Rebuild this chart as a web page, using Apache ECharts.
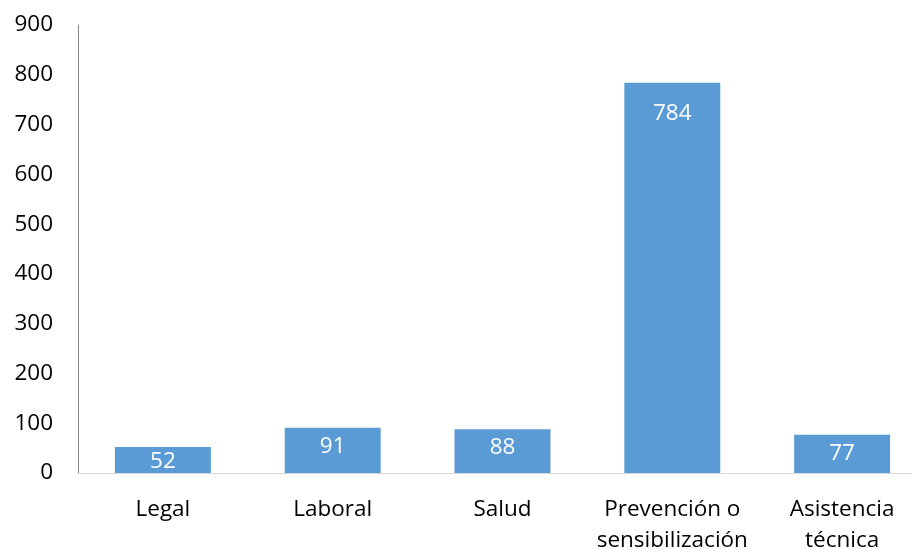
<!DOCTYPE html>
<html>
<head>
<meta charset="utf-8">
<script src="https://cdn.jsdelivr.net/npm/echarts@6/dist/echarts.min.js"></script>
<style>
  html, body { margin: 0; padding: 0; background: #fff; }
  #chart { width: 912px; height: 549px; }
</style>
</head>
<body>
<div id="chart"></div>
<script>
// datos del gráfico
const categories = ['Legal', 'Laboral', 'Salud', 'Prevención o\nsensibilización', 'Asistencia\ntécnica']
const values = [52, 91, 88, 784, 77]
const yMin = 0
const yMax = 900
const yStep = 100

const chart = echarts.init(document.getElementById('chart'))
chart.setOption({
  animation: false,
  textStyle: { fontFamily: 'Open Sans' },
  grid: {
    left: 78,
    right: -15,
    top: 25,
    bottom: 76,
    containLabel: false,
    outerBoundsMode: 'none'
  },
  xAxis: {
    type: 'category',
    data: categories,
    axisTick: { show: false },
    axisLine: { lineStyle: { color: '#d9d9d9', width: 1 } },
    axisLabel: {
      color: '#000',
      fontSize: 22.5,
      lineHeight: 31,
      margin: 21,
      interval: 0
    }
  },
  yAxis: {
    type: 'value',
    min: yMin,
    max: yMax,
    interval: yStep,
    axisLine: { show: true, lineStyle: { color: '#868686', width: 1 } },
    axisTick: { show: false },
    splitLine: { show: false },
    axisLabel: {
      color: '#000',
      fontSize: 22.5,
      margin: 25
    }
  },
  series: [{
    type: 'bar',
    data: values.map(v => ({
      value: v,
      // etiqueta más abajo en la barra alta
      label: { distance: v > 500 ? 19 : (v < 60 ? 3 : 7) }
    })),
    barCategoryGap: '43.5%',
    itemStyle: { color: '#5b9bd5' },
    label: {
      show: true,
      position: 'insideTop',
      color: '#fff',
      fontSize: 22.5
    }
  }]
})
</script>
</body>
</html>
